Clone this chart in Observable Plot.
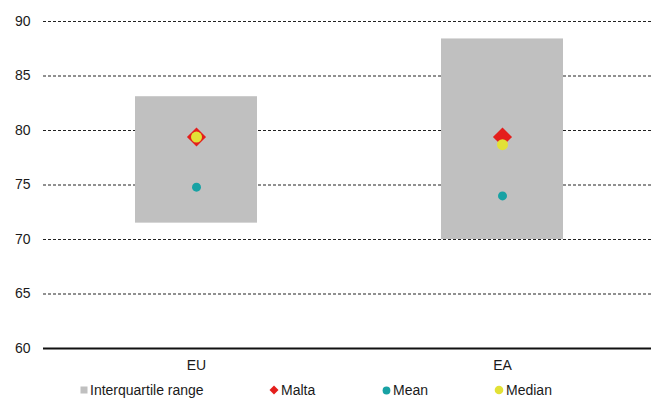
<!DOCTYPE html>
<html>
<head>
<meta charset="utf-8">
<script src="https://cdn.jsdelivr.net/npm/d3@7"></script>
<script src="https://cdn.jsdelivr.net/npm/@observablehq/plot@0.6"></script>
<style>
  body { margin: 0; background: #fff; font-family: "Liberation Sans", Arial, sans-serif; }
  #chart { position: relative; width: 651px; }
  #legend { position: relative; height: 22px; font-size: 14px; color: #1a1a1a; }
  #legend .item { position: absolute; top: 2px; display: flex; align-items: center; height: 20px; white-space: nowrap; }
  #legend svg { margin-right: 2px; }
</style>
</head>
<body>
<div id="chart"></div>
<div id="legend"></div>
<script>
const categories = ["EU", "EA"];
const q1 = [71.5, 70.0];
const q3 = [83.1, 88.4];
const malta = [79.4, 79.4];
const mean = [74.8, 74.0];
const median = [79.4, 78.7];
const yTicks = [60, 65, 70, 75, 80, 85, 90];
const gridTicks = [65, 70, 75, 80, 85, 90];

const seriesNames = ["Interquartile range", "Malta", "Mean", "Median"];
const colors = { iqr: "#c0c0c0", malta: "#e41f1c", mean: "#18a2a4", median: "#e2e136" };

const rows = categories.map((c, i) => ({ cat: c, q1: q1[i], q3: q3[i], malta: malta[i], mean: mean[i], median: median[i] }));

const plot = Plot.plot({
  width: 651,
  height: 378,
  marginLeft: 43,
  marginRight: 0,
  marginTop: 21,
  marginBottom: 30,
  style: { fontSize: "14px", fontFamily: "'Liberation Sans', Arial, sans-serif", color: "#1a1a1a", background: "#fff" },
  x: { type: "band", domain: categories, range: [43, 655], paddingInner: 0.6, paddingOuter: 0.3, label: null },
  y: { domain: [60, 90], label: null },
  marks: [
    Plot.ruleY(gridTicks, { stroke: "#222", strokeWidth: 1, strokeDasharray: "3,2" }),
    Plot.barY(rows, { x: "cat", y1: "q1", y2: "q3", fill: colors.iqr }),
    Plot.ruleY([60], { stroke: "#111", strokeWidth: 2 }),
    Plot.dot(rows, { x: "cat", y: "malta", symbol: d3.symbolDiamond2, r: 8.6, fill: colors.malta }),
    Plot.dot(rows, { x: "cat", y: "mean", r: 4.5, fill: colors.mean }),
    Plot.dot(rows, { x: "cat", y: "median", r: 5.5, fill: colors.median }),
    Plot.axisY({ ticks: yTicks, tickSize: 0, tickPadding: 13, label: null }),
    Plot.axisX({ tickSize: 0, tickPadding: 12, label: null })
  ]
});
document.getElementById("chart").appendChild(plot);

const legend = document.getElementById("legend");
const legendItems = [
  { name: seriesNames[0], left: 80, svg: `<svg width="8" height="8"><rect x="0.5" y="0.5" width="7" height="7" fill="${colors.iqr}"/></svg>` },
  { name: seriesNames[1], left: 269, svg: `<svg width="10" height="10"><path d="M5,0.5L9.5,5L5,9.5L0.5,5Z" fill="${colors.malta}"/></svg>` },
  { name: seriesNames[2], left: 382, svg: `<svg width="9" height="9"><circle cx="4.5" cy="4.5" r="3.9" fill="${colors.mean}"/></svg>` },
  { name: seriesNames[3], left: 494, svg: `<svg width="10" height="10"><circle cx="5" cy="5" r="4.3" fill="${colors.median}"/></svg>` }
];
for (const it of legendItems) {
  const div = document.createElement("div");
  div.className = "item";
  div.style.left = it.left + "px";
  div.innerHTML = it.svg + `<span>${it.name}</span>`;
  legend.appendChild(div);
}
</script>
</body>
</html>
